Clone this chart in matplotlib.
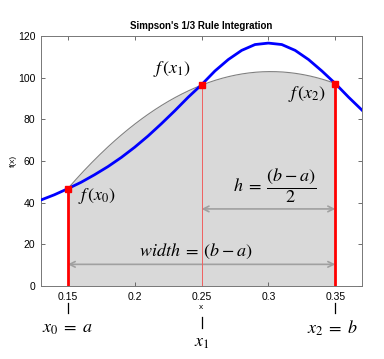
import numpy as np
import matplotlib
matplotlib.use("Agg")
import matplotlib.pyplot as plt
import matplotlib.transforms as mtransforms

plt.rcParams['font.family'] = ['Liberation Sans', 'DejaVu Sans']
plt.rcParams['mathtext.fontset'] = 'stix'

# blue curve f(x)
x_vals = [0.13, 0.14, 0.15, 0.16, 0.17, 0.18, 0.19, 0.20, 0.21, 0.22, 0.23, 0.24,
          0.25, 0.26, 0.27, 0.28, 0.29, 0.30, 0.31, 0.32, 0.33, 0.34, 0.35, 0.36, 0.37]
f_vals = [41.3, 43.8, 46.7, 49.8, 53.4, 57.3, 61.7, 66.6, 72.0, 77.9, 84.1, 90.6,
          96.6, 103.2, 108.7, 113.1, 115.9, 116.6, 115.9, 113.1, 108.7, 103.2, 97.2, 90.6, 84.4]

# Simpson nodes
nodes_x = [0.15, 0.25, 0.35]
nodes_f = [46.7, 96.4, 97.2]

xtick_vals = [0.15, 0.2, 0.25, 0.3, 0.35]
xtick_labels = ['0.15', '0.2', '0.25', '0.3', '0.35']
ytick_vals = [0, 20, 40, 60, 80, 100, 120]

fig = plt.figure(figsize=(3.84, 3.59), dpi=100)
ax = fig.add_axes([0.1068, 0.2033, 0.836, 0.6964])

# interpolating parabola through the three nodes (Simpson's rule)
coef = np.polyfit(nodes_x, nodes_f, 2)
xp = np.linspace(nodes_x[0], nodes_x[-1], 200)
yp = np.polyval(coef, xp)
ax.fill_between(xp, 0, yp, color='#d9d9d9', lw=0, zorder=1)
ax.plot(xp, yp, color='#808080', lw=0.8, zorder=2)

ax.plot(x_vals, f_vals, color='#0000ff', lw=2, zorder=3)

ax.vlines([nodes_x[0], nodes_x[2]], 0, [nodes_f[0], nodes_f[2]], color='#ff0000', lw=2, zorder=4)
ax.vlines(nodes_x[1], 0, nodes_f[1], color='#f06060', lw=0.7, zorder=4)
ax.plot(nodes_x, nodes_f, 's', color='#ff0000', ms=5, zorder=5)

# arrows
arrow_kw = dict(arrowstyle='<->', color='#a0a0a0', lw=1.2, shrinkA=0, shrinkB=0)
ax.annotate('', xy=(0.25, 37), xytext=(0.35, 37), arrowprops=arrow_kw)
ax.annotate('', xy=(0.15, 10.4), xytext=(0.35, 10.4), arrowprops=arrow_kw)

fs = 13
ax.text(0.2281, 104, r'$f\,(x_1)$', fontsize=fs, ha='center', va='center')
ax.text(0.3289, 92, r'$f\,(x_2)$', fontsize=fs, ha='center', va='center')
ax.text(0.1718, 43, r'$f\,(x_0)$', fontsize=fs, ha='center', va='center')
ax.text(0.3043, 48, r'$h\;=\;\dfrac{(b-a)}{2}$', fontsize=fs, ha='center', va='center')
ax.text(0.2457, 16.5, r'$width\;=\;(b-a)$', fontsize=fs, ha='center', va='center')

# labels under the axis
trans = mtransforms.blended_transform_factory(ax.transData, ax.transAxes)
ax.plot([0.15, 0.15], [-0.068, -0.108], color='black', lw=0.9, transform=trans, clip_on=False)
ax.plot([0.35, 0.35], [-0.068, -0.108], color='black', lw=0.9, transform=trans, clip_on=False)
ax.plot([0.25, 0.25], [-0.124, -0.166], color='black', lw=0.9, transform=trans, clip_on=False)
ax.text(0.15, -0.168, r'$x_0\;=\;a$', fontsize=fs, ha='center', va='center', transform=trans)
ax.text(0.348, -0.168, r'$x_2\;=\;b$', fontsize=fs, ha='center', va='center', transform=trans)
ax.text(0.25, -0.225, r'$x_1$', fontsize=fs, ha='center', va='center', transform=trans)

ax.set_xlim(0.13, 0.37)
ax.set_ylim(0, 120)
ax.set_xticks(xtick_vals)
ax.set_xticklabels(xtick_labels)
ax.set_yticks(ytick_vals)
ax.tick_params(direction='in', length=3, width=0.6, labelsize=7.5, colors='#555555',
               labelcolor='black', top=True, right=True, pad=4)
for s in ax.spines.values():
    s.set_color('#777777')
    s.set_linewidth(0.7)

ax.set_title("Simpson's 1/3 Rule Integration", fontsize=7, fontweight='bold', pad=5)
ax.set_xlabel('x', fontsize=6, labelpad=2)
ax.set_ylabel('f(x)', fontsize=6, labelpad=1)

fig.savefig('out.png', dpi=100)
